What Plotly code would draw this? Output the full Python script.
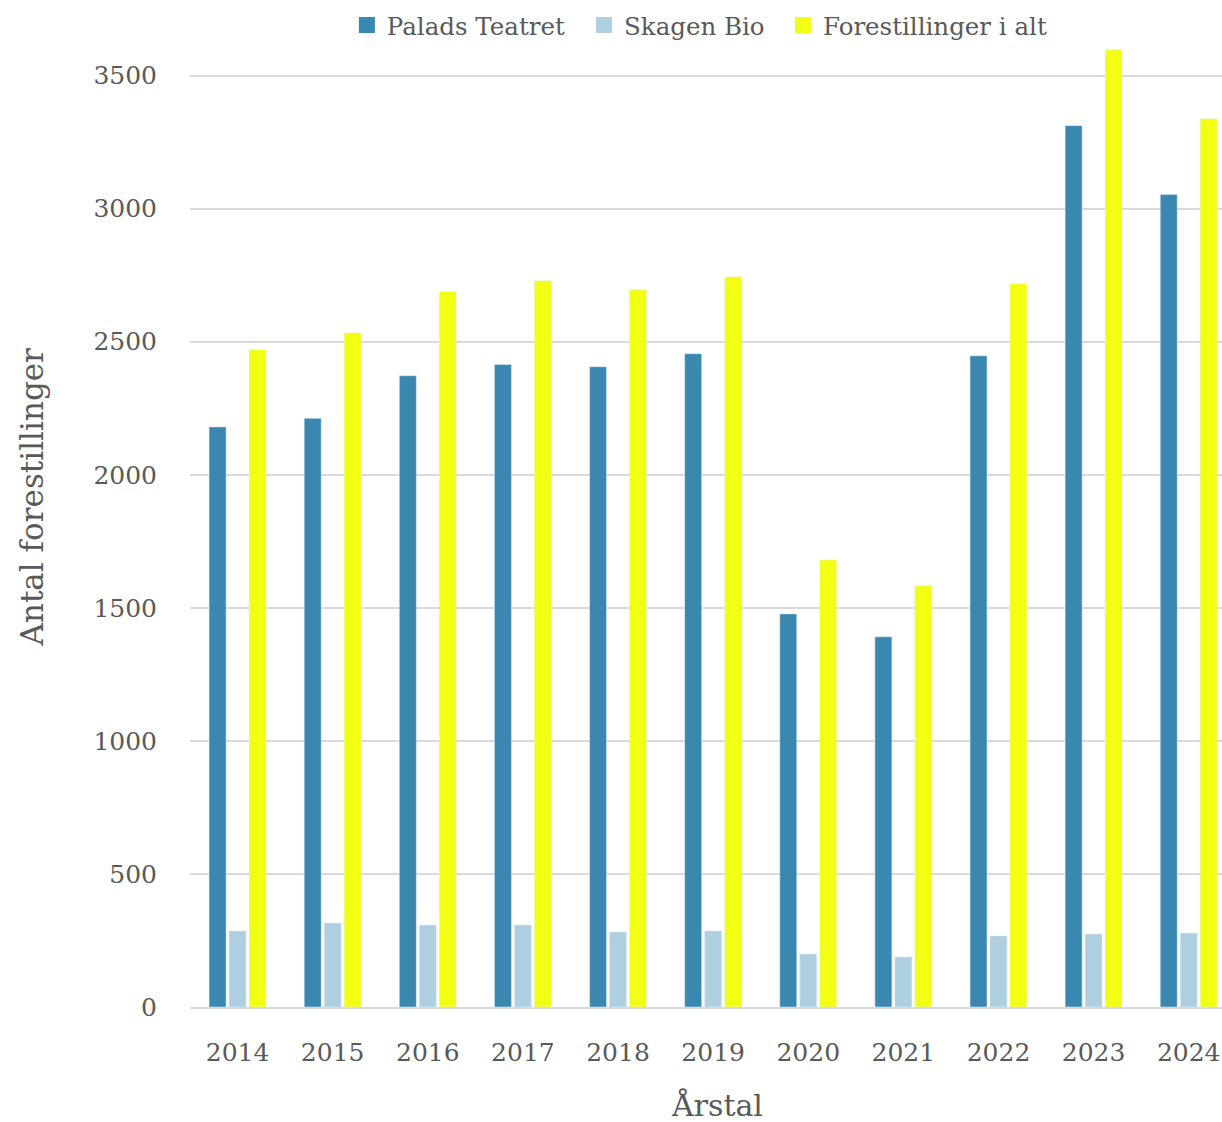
import plotly.graph_objects as go

years = ["2014", "2015", "2016", "2017", "2018", "2019", "2020", "2021", "2022", "2023", "2024"]
palads = [2180, 2212, 2372, 2414, 2406, 2455, 1477, 1391, 2447, 3312, 3053]
skagen = [286, 316, 308, 308, 282, 286, 199, 188, 267, 274, 278]
total = [2470, 2534, 2688, 2729, 2695, 2744, 1680, 1583, 2718, 3597, 3338]
y_ticks = [0, 500, 1000, 1500, 2000, 2500, 3000, 3500]
names = ["Palads Teatret", "Skagen Bio", "Forestillinger i alt"]
colors = ["#3a87b0", "#aecfe0", "#f2ff12"]

FONT = "DejaVu Serif"
TXT = "#595959"

fig = go.Figure()
for vals, name, col in zip([palads, skagen, total], names, colors):
    fig.add_trace(go.Bar(x=years, y=vals, name=name, marker_color=col, showlegend=False))
legend_ids = ["legend", "legend2", "legend3"]
for name, col, lid in zip(names, colors, legend_ids):
    fig.add_trace(go.Scatter(x=[None], y=[None], mode="markers", name=name, legend=lid,
                             marker=dict(symbol="square", size=16, color=col)))

def leg(x):
    return dict(orientation="h", x=x, xanchor="left", y=1.025, yanchor="middle",
                font=dict(size=24.5, family=FONT, color=TXT), itemwidth=30,
                bgcolor="rgba(0,0,0,0)")

fig.update_layout(
    width=1222, height=1122,
    margin=dict(l=190, r=0, t=49, b=115, autoexpand=False),
    paper_bgcolor="white", plot_bgcolor="white",
    barmode="group", bargap=0.37, bargroupgap=0.15,
    font=dict(family=FONT, color=TXT, size=25),
    legend=leg(0.152), legend2=leg(0.3818), legend3=leg(0.5746),
    xaxis=dict(showgrid=False, showline=True, linecolor="#d9d9d9", linewidth=2,
               range=[-0.5, 10.35],
               tickfont=dict(size=25, family=FONT, color=TXT), ticklabelstandoff=22),
    yaxis=dict(range=[0, 3600], tickvals=y_ticks, showgrid=True, gridcolor="#d9d9d9",
               gridwidth=1.5, zeroline=False, showline=False,
               tickfont=dict(size=25, family=FONT, color=TXT), ticklabelstandoff=32),
    annotations=[
        dict(text="Antal forestillinger", xref="paper", yref="paper", x=-0.153, y=0.532,
             showarrow=False, textangle=-90, font=dict(size=31, family=FONT, color=TXT),
             xanchor="center", yanchor="middle"),
        dict(text="Årstal", xref="paper", yref="paper", x=0.511, y=-0.103,
             showarrow=False, font=dict(size=30, family=FONT, color=TXT),
             xanchor="center", yanchor="middle"),
    ],
)

# remove the browser's default 8px body margin so the figure fills the window exactly
fig.write_html("out.html", config={"displayModeBar": False},
               post_script="document.body.style.margin='0';document.body.style.overflow='hidden';")
